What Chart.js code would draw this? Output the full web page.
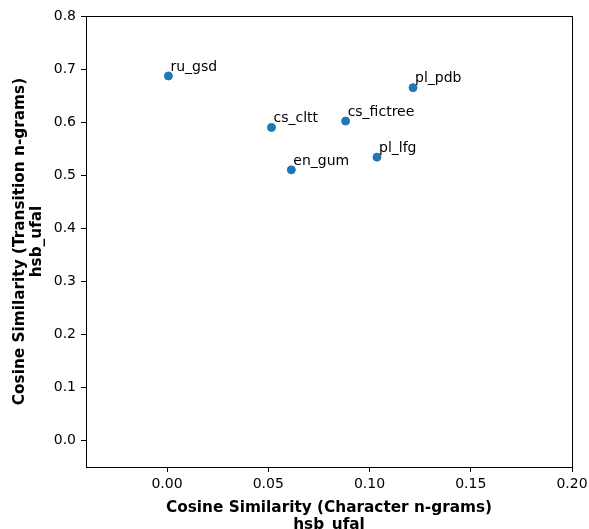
<!DOCTYPE html>
<html>
<head>
<meta charset="utf-8">
<script src="https://cdn.jsdelivr.net/npm/chart.js@4/dist/chart.umd.min.js"></script>
<style>
  html, body { margin: 0; padding: 0; background: #fff; }
  #wrap { width: 589px; height: 529px; }
</style>
</head>
<body>
<div id="wrap"><canvas id="chart" width="589" height="529"></canvas></div>
<script>
// treebank similarity to hsb_ufal
const treebanks = ["ru_gsd", "cs_cltt", "en_gum", "cs_fictree", "pl_lfg", "pl_pdb"];
const charSim = [0.0007, 0.0516, 0.0614, 0.0882, 0.1037, 0.1215];
const transSim = [0.687, 0.590, 0.510, 0.602, 0.534, 0.665];

const xTicks = [0.00, 0.05, 0.10, 0.15, 0.20];
const yTicks = [0.0, 0.1, 0.2, 0.3, 0.4, 0.5, 0.6, 0.7, 0.8];

const FONT = "'DejaVu Sans', sans-serif";
const BLUE = "#1f77b4";

// text next to each point, slightly up and to the right
const pointLabels = {
  id: "pointLabels",
  afterDatasetsDraw(chart) {
    const { ctx, scales } = chart;
    ctx.save();
    ctx.font = "14px " + FONT;
    ctx.fillStyle = "#000";
    ctx.textAlign = "left";
    ctx.textBaseline = "alphabetic";
    treebanks.forEach((name, i) => {
      const px = scales.x.getPixelForValue(charSim[i] + 0.001);
      const py = scales.y.getPixelForValue(transSim[i] + 0.01);
      ctx.fillText(name, px, py);
    });
    ctx.restore();
  }
};

// full box around the plot area
const frame = {
  id: "frame",
  afterDraw(chart) {
    const { ctx, chartArea: a } = chart;
    ctx.save();
    ctx.strokeStyle = "#000";
    ctx.lineWidth = 1;
    ctx.strokeRect(Math.round(a.left) + 0.5, Math.round(a.top) + 0.5,
      Math.round(a.right - a.left), Math.round(a.bottom - a.top));
    ctx.restore();
  }
};

const titleFont = { family: FONT, size: 15.3, weight: "bold", lineHeight: 1.13 };

new Chart(document.getElementById("chart"), {
  type: "scatter",
  data: {
    datasets: [{
      data: charSim.map((x, i) => ({ x, y: transSim[i] })),
      backgroundColor: BLUE,
      borderColor: BLUE,
      pointRadius: 4,
      pointHoverRadius: 4
    }]
  },
  options: {
    responsive: false,
    animation: false,
    events: [],
    layout: { padding: { top: 16, right: 17, left: 0, bottom: 0 } },
    plugins: { legend: { display: false }, tooltip: { enabled: false } },
    scales: {
      x: {
        type: "linear",
        min: -0.04,
        max: 0.20,
        afterBuildTicks(s) { s.ticks = xTicks.map(v => ({ value: v })); },
        afterFit(s) { s.height = 62; s.paddingLeft = 0; s.paddingRight = 0; },
        grid: { drawOnChartArea: false, drawTicks: true, tickLength: 5, tickColor: "#000" },
        border: { display: true, color: "#000", width: 1 },
        ticks: {
          color: "#000",
          padding: 4,
          maxRotation: 0,
          font: { family: FONT, size: 14 },
          callback: v => v.toFixed(2)
        },
        title: {
          display: true,
          text: ["Cosine Similarity (Character n-grams)", "hsb_ufal"],
          color: "#000",
          font: titleFont,
          padding: { top: 0, bottom: -5 }
        }
      },
      y: {
        type: "linear",
        min: -0.05,
        max: 0.80,
        afterBuildTicks(s) { s.ticks = yTicks.map(v => ({ value: v })); },
        afterFit(s) { s.width = 86; },
        grid: { drawOnChartArea: false, drawTicks: true, tickLength: 5, tickColor: "#000" },
        border: { display: true, color: "#000", width: 1 },
        ticks: {
          color: "#000",
          padding: 5,
          font: { family: FONT, size: 14 },
          callback: v => v.toFixed(1)
        },
        title: {
          display: true,
          text: ["Cosine Similarity (Transition n-grams)", "hsb_ufal"],
          color: "#000",
          font: titleFont,
          padding: { top: 11, bottom: 0 }
        }
      }
    }
  },
  plugins: [pointLabels, frame]
});
</script>
</body>
</html>
